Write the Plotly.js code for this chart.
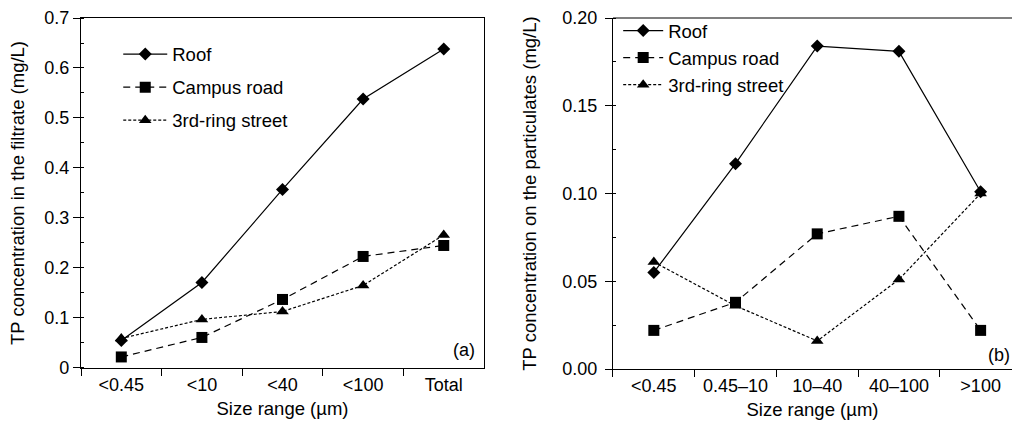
<!DOCTYPE html>
<html>
<head>
<meta charset="utf-8">
<script src="https://cdn.plot.ly/plotly-3.0.1.min.js"></script>
<style>html,body{margin:0;padding:0;background:#fff;}#chart{width:1013px;height:421px;}</style>
</head>
<body>
<div id="chart"></div>
<script>
// Panel (a): TP in filtrate
const catsA = ["<0.45", "<10", "<40", "<100", "Total"];
const roofA = [0.055, 0.171, 0.357, 0.538, 0.638];
const campusA = [0.022, 0.061, 0.137, 0.223, 0.245];
const ringA = [0.059, 0.097, 0.113, 0.165, 0.266];

// Panel (b): TP on particulates
const catsB = ["<0.45", "0.45\u201310", "10\u201340", "40\u2013100", ">100"];
const roofB = [0.055, 0.117, 0.184, 0.181, 0.101];
const campusB = [0.022, 0.038, 0.077, 0.087, 0.022];
const ringB = [0.061, 0.036, 0.016, 0.051, 0.100];

const seriesNames = ["Roof", "Campus road", "3rd-ring street"];

const FONT = "Liberation Sans, Arial, sans-serif";
const styles = [
  {line: {color: "#000", width: 1.2, dash: "solid"}, marker: {symbol: "diamond", size: 10, color: "#000"}},
  {line: {color: "#000", width: 1.2, dash: "7px,5px"}, marker: {symbol: "square", size: 11, color: "#000"}},
  {line: {color: "#000", width: 1.2, dash: "3px,2px"}, marker: {symbol: "triangle-up", size: 11, color: "#000"}}
];

const dataA = [roofA, campusA, ringA];
const dataB = [roofB, campusB, ringB];
const traces = [];
dataA.forEach((ys, i) => {
  traces.push(Object.assign({
    type: "scatter", mode: "lines+markers", x: catsA, y: ys, name: seriesNames[i],
    xaxis: "x", yaxis: "y", legend: "legend", legendgroup: "a" + i
  }, styles[i]));
});
dataB.forEach((ys, i) => {
  traces.push(Object.assign({
    type: "scatter", mode: "lines+markers", x: catsB, y: ys, name: seriesNames[i],
    xaxis: "x2", yaxis: "y2", legend: "legend2", legendgroup: "b" + i
  }, styles[i]));
});

const axisFont = {family: FONT, size: 18, color: "#000"};
const titleFont = {family: FONT, size: 18.5, color: "#000"};
const legFont = {family: FONT, size: 18.5, color: "#000"};

const layout = {
  width: 1013, height: 421,
  margin: {l: 81, r: 1, t: 18, b: 52},
  paper_bgcolor: "#fff", plot_bgcolor: "#fff",
  font: {family: FONT, color: "#000"},
  xaxis: {
    domain: [0, 0.4329], type: "category", range: [-0.5, 4.5], tickson: "boundaries",
    showline: true, mirror: true, linecolor: "#000", linewidth: 1.2,
    ticks: "outside", ticklen: 7, tickcolor: "#000", showgrid: false, zeroline: false,
    tickfont: axisFont, anchor: "y",
    title: {text: "Size range (\u00b5m)", font: titleFont, standoff: 8}
  },
  yaxis: {
    domain: [0.003, 1], range: [0, 0.7], dtick: 0.1, anchor: "x",
    showline: true, mirror: true, linecolor: "#000", linewidth: 1.2,
    ticks: "outside", ticklen: 7, tickcolor: "#000", showgrid: false, zeroline: false,
    minor: {dtick: 0.05, ticks: "inside", ticklen: 3, tickcolor: "#000", showgrid: false},
    tickfont: axisFont,
    title: {text: "TP concentration in the filtrate (mg/L)", font: titleFont, standoff: 14}
  },
  xaxis2: {
    domain: [0.5714, 1], type: "category", range: [-0.5, 4.384], tickson: "boundaries",
    showline: true, linecolor: "#000", linewidth: 1.2,
    ticks: "outside", ticklen: 7, tickcolor: "#000", showgrid: false, zeroline: false,
    tickfont: axisFont, anchor: "y2",
    title: {text: "Size range (\u00b5m)", font: titleFont, standoff: 8}
  },
  yaxis2: {
    domain: [0, 1], range: [0, 0.2], dtick: 0.05, tickformat: ".2f", anchor: "x2",
    showline: true, linecolor: "#000", linewidth: 1.2,
    ticks: "outside", ticklen: 7, tickcolor: "#000", showgrid: false, zeroline: false,
    minor: {dtick: 0.025, ticks: "inside", ticklen: 3, tickcolor: "#000", showgrid: false},
    tickfont: axisFont, ticklabelstandoff: 4,
    title: {text: "TP concentration on the particulates (mg/L)", font: titleFont, standoff: 20}
  },
  legend: {
    x: 0.04, y: 0.95, xanchor: "left", yanchor: "top", itemwidth: 44,
    bgcolor: "rgba(0,0,0,0)", borderwidth: 0, tracegroupgap: 6,
    traceorder: "grouped", font: legFont
  },
  legend2: {
    x: 0.577, y: 1.017, xanchor: "left", yanchor: "top", itemwidth: 40,
    bgcolor: "rgba(0,0,0,0)", borderwidth: 0, tracegroupgap: 0,
    traceorder: "grouped", font: legFont
  },
  shapes: [
    {type: "line", xref: "paper", yref: "paper", x0: 0.5714, x1: 1, y0: 1, y1: 1,
     line: {color: "#000", width: 1.2}}
  ],
  annotations: [
    {text: "(a)", xref: "paper", yref: "paper", x: 0.425, y: 0.055, xanchor: "right", yanchor: "middle",
     showarrow: false, font: {family: FONT, size: 18, color: "#000"}},
    {text: "(b)", xref: "paper", yref: "paper", x: 1.0, y: 0.04, xanchor: "right", yanchor: "middle",
     showarrow: false, font: {family: FONT, size: 18, color: "#000"}}
  ],
  showlegend: true
};

Plotly.newPlot("chart", traces, layout, {displayModeBar: false, staticPlot: true});
</script>
</body>
</html>
